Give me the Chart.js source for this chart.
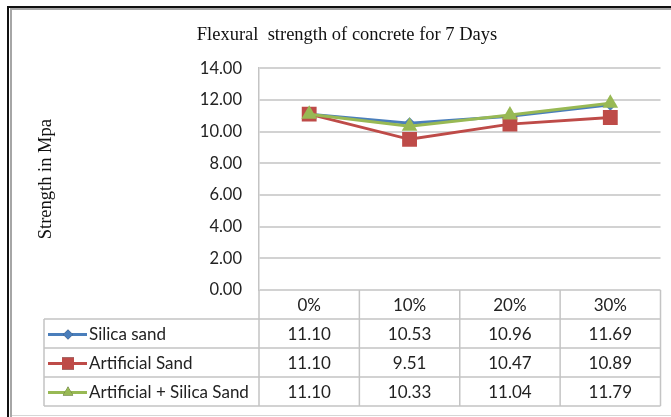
<!DOCTYPE html>
<html>
<head>
<meta charset="utf-8">
<script src="https://cdn.jsdelivr.net/npm/chart.js@4.4.1/dist/chart.umd.min.js"></script>
<style>
  html, body { margin: 0; padding: 0; background: #ffffff; }
  #wrap { position: relative; width: 671px; height: 417px; }
</style>
</head>
<body>
<div id="wrap"><canvas id="chart" width="671" height="417"></canvas></div>
<script>
// Replacement percentages (x categories)
const categories = ['0%', '10%', '20%', '30%'];

// Flexural strength after 7 days, MPa
const silicaSand = [11.10, 10.53, 10.96, 11.69];
const artificialSand = [11.10, 9.51, 10.47, 10.89];
const artificialSilicaSand = [11.10, 10.33, 11.04, 11.79];

const seriesNames = ['Silica sand', 'Artificial Sand', 'Artificial + Silica Sand'];

// Value axis range
const yMin = 0;
const yMax = 14;
const yStep = 2;

const BODY_FONT = 'Lato, "Liberation Sans", sans-serif';
const SERIF_FONT = '"Liberation Serif", "Times New Roman", serif';

// White page with the black/grey frame around the figure
const framePlugin = {
  id: 'frame',
  beforeDraw(chart) {
    const ctx = chart.ctx;
    const W = chart.width, H = chart.height;
    ctx.save();
    ctx.fillStyle = '#ffffff';
    ctx.fillRect(0, 0, W, H);
    ctx.fillStyle = '#111111';
    ctx.fillRect(7, 6, W - 7, 2);
    ctx.fillRect(7, 6, 2, H - 6);
    ctx.fillStyle = '#a6a6a6';
    ctx.fillRect(10, 8, W - 10, 2);
    ctx.fillRect(10, 8, 2, H - 8);
    ctx.fillStyle = '#d6d6d6';
    ctx.fillRect(12, 415, W - 12, 1);
    ctx.restore();
  }
};

// Data table under the plot: column edges follow the category scale
const dataTablePlugin = {
  id: 'dataTable',
  afterDraw(chart, args, opts) {
    const ctx = chart.ctx;
    const xs = chart.scales.x;
    const area = chart.chartArea;
    const n = categories.length;
    const step = xs.getPixelForValue(1) - xs.getPixelForValue(0);
    const edges = [];
    for (let i = 0; i < n; i++) edges.push(xs.getPixelForValue(i) - step / 2);
    edges.push(xs.getPixelForValue(n - 1) + step / 2);

    const top = area.bottom;
    const rowH = opts.rowHeight;
    const left = opts.labelLeft;
    const right = edges[n];
    const rows = chart.data.datasets.slice().sort((a, b) => a.rowIndex - b.rowIndex);
    const bottom = top + rowH * (rows.length + 1);

    ctx.save();
    ctx.strokeStyle = opts.gridColor;
    ctx.lineWidth = 1.5;
    ctx.beginPath();
    // header row verticals
    edges.forEach(x => { ctx.moveTo(x, top); ctx.lineTo(x, bottom); });
    // body rows
    for (let r = 1; r <= rows.length + 1; r++) {
      const y = top + rowH * r;
      ctx.moveTo(left, y); ctx.lineTo(right, y);
    }
    ctx.moveTo(left, top + rowH); ctx.lineTo(left, bottom);
    ctx.stroke();

    ctx.font = opts.font;
    ctx.fillStyle = opts.textColor;
    ctx.textBaseline = 'middle';
    ctx.textAlign = 'center';
    categories.forEach((c, i) => ctx.fillText(c, xs.getPixelForValue(i), top + rowH / 2 + 1));

    rows.forEach((ds, r) => {
      const yMid = top + rowH * (r + 1) + rowH / 2 + 1;
      ctx.textAlign = 'center';
      ctx.fillStyle = opts.textColor;
      ds.data.forEach((v, i) => ctx.fillText(v.toFixed(2), xs.getPixelForValue(i), yMid));

      // legend key: line with marker
      ctx.strokeStyle = ds.borderColor;
      ctx.lineWidth = 3;
      ctx.beginPath();
      ctx.moveTo(left + 4, yMid);
      ctx.lineTo(left + 43, yMid);
      ctx.stroke();
      Chart.helpers.drawPoint(ctx, {
        pointStyle: ds.pointStyle,
        radius: ds.legendRadius,
        rotation: 0,
        borderWidth: 0
      }, left + 24, yMid);
      ctx.fillStyle = ds.pointBackgroundColor;
      ctx.fill();

      ctx.fillStyle = opts.textColor;
      ctx.textAlign = 'left';
      ctx.fillText(ds.label, left + 45, yMid);
    });
    ctx.restore();
  }
};

const BLUE = '#4A7EBB';
const RED = '#BE4B48';
const GREEN = '#98B954';

new Chart(document.getElementById('chart'), {
  type: 'line',
  data: {
    labels: categories,
    datasets: [
      {
        label: seriesNames[0], rowIndex: 0, order: 2,
        data: silicaSand,
        borderColor: BLUE, backgroundColor: BLUE,
        pointBackgroundColor: BLUE, pointBorderColor: BLUE,
        pointStyle: 'rectRot', pointRadius: 6, legendRadius: 5,
        borderWidth: 3, pointBorderWidth: 0
      },
      {
        label: seriesNames[1], rowIndex: 1, order: 1,
        data: artificialSand,
        borderColor: RED, backgroundColor: RED,
        pointBackgroundColor: RED, pointBorderColor: RED,
        pointStyle: 'rect', pointRadius: 10.5, legendRadius: 8.5,
        borderWidth: 3, pointBorderWidth: 0
      },
      {
        label: seriesNames[2], rowIndex: 2, order: 0,
        data: artificialSilicaSand,
        borderColor: GREEN, backgroundColor: GREEN,
        pointBackgroundColor: GREEN, pointBorderColor: GREEN,
        pointStyle: 'triangle', pointRadius: 9, legendRadius: 6,
        borderWidth: 3, pointBorderWidth: 0
      }
    ]
  },
  options: {
    responsive: false,
    animation: false,
    devicePixelRatio: 1,
    layout: { padding: { left: 31, right: 8, top: 10, bottom: 127 } },
    plugins: {
      legend: { display: false },
      tooltip: { enabled: false },
      title: {
        display: true,
        text: 'Flexural  strength of concrete for 7 Days',
        color: '#111111',
        font: { family: SERIF_FONT, size: 18.5, weight: 'normal' },
        padding: { top: 14, bottom: 22 }
      },
      dataTable: {
        rowHeight: 29,
        labelLeft: 44,
        gridColor: '#c4c4c4',
        textColor: '#222222',
        font: '17px ' + BODY_FONT
      }
    },
    scales: {
      x: {
        type: 'category',
        offset: true,
        display: false
      },
      y: {
        min: yMin,
        max: yMax,
        afterFit(scale) { scale.width = 228; },
        ticks: {
          stepSize: yStep,
          padding: 17,
          color: '#222222',
          font: { family: BODY_FONT, size: 16.5 },
          callback: v => Number(v).toFixed(2)
        },
        grid: {
          color: '#d2d2d2',
          lineWidth: 2,
          drawTicks: false,
          tickLength: 0
        },
        border: { display: true, color: '#c4c4c4', width: 1.5 },
        title: {
          display: true,
          text: 'Strength in Mpa',
          color: '#111111',
          font: { family: SERIF_FONT, size: 18.5, weight: 'normal' },
          padding: { top: 4.5, bottom: 0 }
        }
      }
    }
  },
  plugins: [framePlugin, dataTablePlugin]
});
</script>
</body>
</html>
